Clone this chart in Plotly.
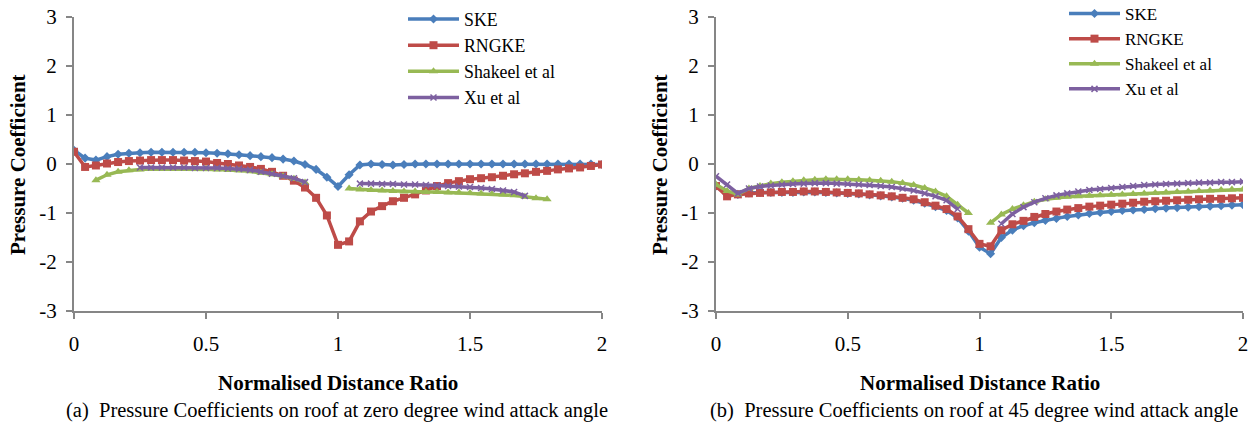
import plotly.graph_objects as go

# Normalised distance ratio along the roof
x_ratio = [0, 0.042, 0.083, 0.125, 0.167, 0.208, 0.25, 0.292, 0.333, 0.375, 0.417, 0.458,
           0.5, 0.542, 0.583, 0.625, 0.667, 0.708, 0.75, 0.792, 0.833, 0.875, 0.917, 0.958,
           1.0, 1.042, 1.083, 1.125, 1.167, 1.208, 1.25, 1.292, 1.333, 1.375, 1.417, 1.458,
           1.5, 1.542, 1.583, 1.625, 1.667, 1.708, 1.75, 1.792, 1.833, 1.875, 1.917, 1.958, 2.0]

N = None

# (a) zero degree wind attack angle
ske_0 = [0.28, 0.12, 0.08, 0.15, 0.20, 0.22, 0.23, 0.24, 0.24, 0.24, 0.24, 0.24,
         0.23, 0.22, 0.21, 0.19, 0.17, 0.15, 0.13, 0.10, 0.06, -0.01, -0.11, -0.27,
         -0.46, -0.22, -0.02, 0.0, -0.01, -0.02, -0.01, 0.0, 0.0, 0.0, 0.0, 0.0,
         0.0, 0.0, 0.0, 0.0, 0.0, 0.0, 0.0, 0.0, 0.0, 0.0, 0.0, 0.0, -0.01]
rng_0 = [0.25, -0.06, -0.03, 0.01, 0.04, 0.06, 0.07, 0.08, 0.08, 0.08, 0.07, 0.06,
         0.05, 0.02, 0.0, -0.03, -0.06, -0.10, -0.16, -0.24, -0.34, -0.48, -0.69, -1.05,
         -1.65, -1.58, -1.17, -0.97, -0.86, -0.76, -0.69, -0.62, -0.54, -0.45, -0.39, -0.35,
         -0.31, -0.29, -0.27, -0.24, -0.21, -0.19, -0.16, -0.14, -0.11, -0.09, -0.07, -0.04, -0.01]
shk_0 = [N, N, -0.33, -0.22, -0.16, -0.13, -0.11, -0.10, -0.10, -0.10, -0.10, -0.10,
         -0.10, -0.11, -0.12, -0.13, -0.15, -0.18, -0.21, -0.25, -0.30, -0.38, N, N,
         N, -0.50, -0.52, -0.53, -0.54, -0.55, -0.56, -0.56, -0.57, -0.57, -0.58, -0.58,
         -0.59, -0.60, -0.61, -0.62, -0.64, -0.67, -0.70, -0.72, N, N, N, N, N]
xu_0 = [N, N, N, N, N, N, -0.07, -0.07, -0.07, -0.07, -0.07, -0.08,
        -0.08, -0.08, -0.09, -0.10, -0.12, -0.16, -0.20, -0.24, -0.29, -0.37, N, N,
        N, N, -0.40, -0.40, -0.41, -0.41, -0.42, -0.42, -0.43, -0.44, -0.45, -0.46,
        -0.47, -0.49, -0.51, -0.54, -0.57, -0.65, N, N, N, N, N, N, N]

# (b) 45 degree wind attack angle
ske_45 = [-0.45, -0.62, -0.62, -0.59, -0.58, -0.58, -0.58, -0.58, -0.57, -0.57, -0.58, -0.59,
          -0.60, -0.61, -0.63, -0.65, -0.67, -0.70, -0.74, -0.80, -0.87, -0.95, -1.10, -1.37,
          -1.70, -1.83, -1.50, -1.35, -1.26, -1.20, -1.15, -1.11, -1.07, -1.04, -1.01, -0.99,
          -0.97, -0.95, -0.94, -0.93, -0.91, -0.90, -0.89, -0.88, -0.87, -0.86, -0.85, -0.84, -0.83]
rng_45 = [-0.45, -0.66, -0.62, -0.60, -0.59, -0.58, -0.57, -0.57, -0.56, -0.56, -0.57, -0.58,
          -0.59, -0.60, -0.62, -0.64, -0.66, -0.69, -0.72, -0.78, -0.85, -0.92, -1.07, -1.33,
          -1.63, -1.68, -1.35, -1.23, -1.16, -1.08, -1.02, -0.97, -0.93, -0.90, -0.87, -0.85,
          -0.83, -0.81, -0.79, -0.77, -0.76, -0.75, -0.74, -0.73, -0.72, -0.71, -0.71, -0.70, -0.69]
shk_45 = [-0.42, -0.55, -0.62, -0.50, -0.45, -0.40, -0.37, -0.35, -0.33, -0.32, -0.31, -0.31,
          -0.31, -0.32, -0.33, -0.34, -0.36, -0.39, -0.43, -0.49, -0.56, -0.66, -0.83, -1.00,
          N, -1.20, -1.03, -0.92, -0.84, -0.77, -0.72, -0.69, -0.67, -0.66, -0.65, -0.64,
          -0.63, -0.62, -0.61, -0.60, -0.59, -0.58, -0.57, -0.56, -0.55, -0.54, -0.53, -0.52, -0.52]
xu_45 = [-0.25, -0.42, -0.60, -0.50, -0.46, -0.44, -0.42, -0.41, -0.40, -0.39, -0.39, -0.40,
         -0.41, -0.42, -0.43, -0.45, -0.47, -0.50, -0.54, -0.60, -0.66, -0.74, -0.92, N,
         N, N, -1.22, -1.02, -0.88, -0.78, -0.70, -0.64, -0.60, -0.56, -0.53, -0.51,
         -0.49, -0.47, -0.45, -0.43, -0.42, -0.41, -0.40, -0.39, -0.38, -0.38, -0.37, -0.37, -0.36]

series_names = ["SKE", "RNGKE", "Shakeel et al", "Xu et al"]
colors = ["#4A7EBB", "#BE4B48", "#98B954", "#7D60A0"]
symbols = ["diamond", "square", "triangle-up", "x-thin"]
msizes = [7, 8, 8, 6]

FONT = "Liberation Serif, Times New Roman, serif"
W, H = 1255, 428

fig = go.Figure()

panels = [
    ([ske_0, rng_0, shk_0, xu_0], "x", "y", "legend"),
    ([ske_45, rng_45, shk_45, xu_45], "x2", "y2", "legend2"),
]
for data, xa, ya, lg in panels:
    for name, ys, c, s, ms in zip(series_names, data, colors, symbols, msizes):
        fig.add_trace(go.Scatter(
            x=x_ratio, y=ys, name=name, mode="lines+markers",
            xaxis=xa, yaxis=ya, legend=lg, connectgaps=False,
            line=dict(color=c, width=3.5),
            marker=dict(symbol=s, size=ms, color=c,
                        line=dict(color=c, width=1.5 if s == "x-thin" else 0)),
        ))

def px_x(p):
    return p / W

def px_y(p):
    return 1 - p / H

axis_common = dict(
    showgrid=False, zeroline=False, showline=True, linecolor="#868686", linewidth=2,
    ticks="outside", ticklen=6, tickcolor="#868686", tickwidth=1.5, automargin=False,
    tickfont=dict(family=FONT, size=21, color="#000000"),
)
y_ticks = [-3, -2, -1, 0, 1, 2, 3]
y_text = ["-3", "-2", "-1", "0", "1", "2", "3"]
x_ticks = [0, 0.5, 1, 1.5, 2]
x_text = ["0", "0.5", "1", "1.5", "2"]

ydom = [px_y(311), px_y(17)]
fig.update_layout(
    width=W, height=H, margin=dict(l=0, r=0, t=0, b=0, autoexpand=False),
    font=dict(family=FONT, color="#000000"),
    paper_bgcolor="white", plot_bgcolor="white",
    xaxis=dict(domain=[px_x(74), px_x(602)], range=[0, 2], anchor="y",
               tickvals=x_ticks, ticktext=x_text, ticklabelstandoff=7, **axis_common),
    yaxis=dict(domain=ydom, range=[-3, 3], anchor="x",
               tickvals=y_ticks, ticktext=y_text, ticklabelstandoff=5, **axis_common),
    xaxis2=dict(domain=[px_x(716), px_x(1243)], range=[0, 2], anchor="y2",
                tickvals=x_ticks, ticktext=x_text, ticklabelstandoff=7, **axis_common),
    yaxis2=dict(domain=ydom, range=[-3, 3], anchor="x2",
                tickvals=y_ticks, ticktext=y_text, ticklabelstandoff=5, **axis_common),
    legend=dict(x=px_x(403), y=px_y(1), xanchor="left", yanchor="top",
                font=dict(family=FONT, size=17.8, color="#000000"),
                bgcolor="rgba(0,0,0,0)", tracegroupgap=0, itemwidth=51),
    legend2=dict(x=px_x(1064), y=px_y(-4), xanchor="left", yanchor="top",
                 font=dict(family=FONT, size=17, color="#000000"),
                 bgcolor="rgba(0,0,0,0)", tracegroupgap=0, itemwidth=51),
    showlegend=True,
)

annotations = []
for cx in [18, 660]:
    annotations.append(dict(
        text="<b>Pressure Coefficient</b>", x=px_x(cx), y=px_y(165),
        xref="paper", yref="paper", showarrow=False, textangle=-90,
        xanchor="center", yanchor="middle",
        font=dict(family=FONT, size=21, color="#000000")))
for cx in [338, 980]:
    annotations.append(dict(
        text="<b>Normalised Distance Ratio</b>", x=px_x(cx), y=px_y(383),
        xref="paper", yref="paper", showarrow=False,
        xanchor="center", yanchor="middle",
        font=dict(family=FONT, size=21, color="#000000")))
for cx, txt in [(337, "(a)  Pressure Coefficients on roof at zero degree wind attack angle"),
                (974, "(b)  Pressure Coefficients on roof at 45 degree wind attack angle")]:
    annotations.append(dict(
        text=txt, x=px_x(cx), y=px_y(410),
        xref="paper", yref="paper", showarrow=False,
        xanchor="center", yanchor="middle",
        font=dict(family=FONT, size=20.5, color="#000000")))
fig.update_layout(annotations=annotations)

fig.write_html("out.html")
